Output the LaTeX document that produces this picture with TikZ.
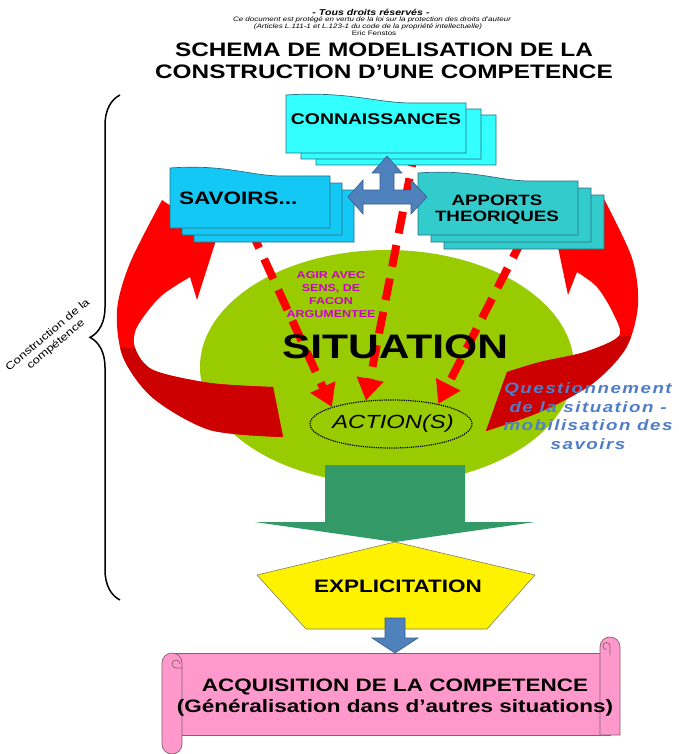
\documentclass[tikz,border=0pt]{standalone}
\usepackage{fontspec}
\setmainfont{Liberation Sans}[FakeStretch=1.25]
\usetikzlibrary{arrows.meta,decorations.pathreplacing,shapes.geometric}

\definecolor{cyanA}{RGB}{51,255,255}
\definecolor{cyanB}{RGB}{20,200,245}
\definecolor{tealC}{RGB}{51,204,204}
\definecolor{boxline}{RGB}{40,110,130}
\definecolor{limeG}{RGB}{153,204,0}
\definecolor{seaG}{RGB}{51,153,102}
\definecolor{steel}{RGB}{79,129,189}
\definecolor{steelD}{RGB}{56,93,138}
\definecolor{redA}{RGB}{255,0,0}
\definecolor{redD}{RGB}{204,0,0}
\definecolor{pinkS}{RGB}{255,153,204}
\definecolor{pinkL}{RGB}{130,95,110}
\definecolor{magA}{RGB}{204,0,204}
\definecolor{qblue}{RGB}{80,125,200}
\definecolor{yelB}{RGB}{128,128,100}

% x y w h color
\newcommand\docshape[5]{%
  \filldraw[fill=#5, draw=boxline, line width=0.7pt]
   (#1,#2) .. controls ({#1+0.35*#3},{#2-4}) and ({#1+0.5*#3},{#2+8}) .. ({#1+0.7*#3},{#2+8})
   -- ({#1+#3},{#2+8}) -- ({#1+#3},{#2+#4}) -- (#1,{#2+#4}) -- cycle;}
% x y w h color dx dy
\newcommand\docstack[7]{%
  \docshape{#1+2*#6}{#2+2*#7}{#3}{#4}{#5}%
  \docshape{#1+#6}{#2+#7}{#3}{#4}{#5}%
  \docshape{#1}{#2}{#3}{#4}{#5}}

\newcommand\leftarrowpath{(162,200) -- (217,237) -- (197,300) -- (190,277)
  -- plot[smooth] coordinates {(190,277) (160,297) (137,327) (135,348) (153,370) (210,383) (273,387)}
  -- (283,437)
  -- plot[smooth] coordinates {(283,437) (210,430) (153,398) (123,357) (117,310) (130,263) (162,200)} -- cycle}
\newcommand\rightarrowpath{(603,197) -- (555,233) -- (568,295) -- (577,272)
  -- plot[smooth] coordinates {(577,272) (597,287) (613,313) (619,336) (585,352) (540,362) (507,372)}
  -- (486,431)
  -- plot[smooth] coordinates {(486,431) (540,412) (592,384) (626,348) (638,305) (632,258) (603,197)} -- cycle}

\begin{document}
\begin{tikzpicture}[x=1pt,y=-1pt,
  dasharrow/.style={draw=redA, line width=8pt, dash pattern=on 22pt off 12pt, -{Triangle[width=26pt,length=22pt]}},
  lbl/.style={inner sep=0pt, outer sep=0pt, align=center},
  scrollst/.style={fill=pinkS, draw=pinkL, line width=0.7pt}]
\useasboundingbox (0,0) rectangle (678,754);
\fill[white] (0,0) rectangle (678,754);

% header
\node[lbl, font=\fontsize{8.5}{9}\selectfont\bfseries\itshape] (h1) at (371,12) {- Tous droits réservés -};
\node[lbl, font=\fontsize{6.4}{7}\selectfont\itshape] (h2) at (372,20) {Ce document est protégé en vertu de la loi sur la protection des droits d'auteur};
\node[lbl, font=\fontsize{6.4}{7}\selectfont\itshape] (h3) at (368,27) {(Articles L.111-1 et L.123-1 du code de la propriété intellectuelle)};
\node[lbl, font=\fontsize{6.4}{7}\selectfont] (h4) at (374,33.5) {Eric Fenstos};

% title
\node[lbl, font=\fontsize{19.5}{22}\selectfont\bfseries] (title) at (384,61) {SCHEMA DE MODELISATION DE LA\\CONSTRUCTION D’UNE COMPETENCE};

% brace
\draw[line width=1.5pt, decorate, decoration={brace, amplitude=30pt, aspect=0.52}] (120,600) -- (120,95);
\node[lbl, rotate=40, font=\fontsize{10.5}{12.5}\selectfont] (brl) at (52,340) {Construction de la\\compétence};

% situation ellipse
\fill[limeG] (387,367) ellipse[x radius=187pt, y radius=117pt];

% red curved arrows
\fill[redA] \leftarrowpath;
\begin{scope}
  \clip (0,348) rectangle (330,470);
  \fill[redD] \leftarrowpath;
\end{scope}
\fill[redA] \rightarrowpath;
\begin{scope}
  \clip (440,336) rectangle (678,470);
  \fill[redD] \rightarrowpath;
\end{scope}

% action ellipse
\node[ellipse, draw, densely dotted, line width=1.2pt, minimum width=162pt, minimum height=48pt, inner sep=0pt] (act) at (391,424) {};
\node[lbl, font=\fontsize{19}{21}\selectfont\itshape] (actt) at (393,424) {ACTION(S)};

% dashed red arrows
\coordinate (d1) at (250,228);
\coordinate (d2) at (416,145);
\coordinate (d3) at (523,238);
\draw[dasharrow] (d1) -- (act.164);
\draw[dasharrow] (d2) -- (act.137);
\draw[dasharrow] (d3) -- (act.23);

% texts in situation
\node[lbl, font=\fontsize{34}{36}\selectfont\bfseries] (sit) at (395,347) {SITUATION};
\node[lbl, text=magA, font=\fontsize{10}{13}\selectfont\bfseries] (agir) at (331,295) {AGIR AVEC\\SENS, DE\\FACON\\ARGUMENTEE};

% green down arrow
\fill[seaG] (325,465) -- (465,465) -- (465,522) -- (535,522) -- (395,542) -- (255,522) -- (325,522) -- cycle;

% document stacks
\docstack{286}{95}{180}{58}{cyanA}{15}{6}
\node[lbl, font=\fontsize{15.5}{17}\selectfont\bfseries] (con) at (376,119) {CONNAISSANCES};
\docstack{170}{168}{160}{60}{cyanB}{12}{7}
\node[lbl, anchor=west, font=\fontsize{18}{20}\selectfont\bfseries] (sav) at (179,198) {SAVOIRS...};
\docstack{418}{173}{160}{62}{tealC}{13}{7}
\node[lbl, font=\fontsize{15}{15.5}\selectfont\bfseries] (app) at (497,209.5) {APPORTS\\THEORIQUES};

% blue three-way arrow
\filldraw[fill=steel, draw=steelD, line width=0.6pt]
  (387,156) -- (402,173) -- (394,173) -- (394,190) -- (411,190) -- (411,180) -- (427,197)
  -- (411,214) -- (411,204) -- (363,204) -- (363,214) -- (348,197) -- (363,180) -- (363,190)
  -- (380,190) -- (380,173) -- (372,173) -- cycle;

% scroll
\filldraw[scrollst] (172,653) rectangle (610,735);
\filldraw[scrollst] (600,735) -- (600,647) arc[start angle=180, end angle=0, radius=10pt] -- (620,735) -- cycle;
\draw[pinkL, line width=0.7pt] (610,655) -- (610,646) arc[start angle=0, end angle=270, radius=3.5pt];
\filldraw[scrollst] (162,663) -- (162,744) arc[start angle=180, end angle=360, radius=10pt] -- (182,663) arc[start angle=0, end angle=180, radius=10pt] -- cycle;
\draw[pinkL, line width=0.7pt] (182,668) -- (176,668) arc[start angle=270, end angle=0, radius=4pt];
\node[lbl, font=\fontsize{18}{21}\selectfont\bfseries] (acq) at (395,698) {ACQUISITION DE LA COMPETENCE\\(Généralisation dans d’autres situations)};

% pentagon
\filldraw[fill=yellow, draw=yelB, line width=0.6pt] (395,542) -- (535,575) -- (487,629) -- (306,629) -- (257,575) -- cycle;
\node[lbl, font=\fontsize{18}{20}\selectfont\bfseries] (expl) at (398,586) {EXPLICITATION};

% small blue arrow
\filldraw[fill=steel, draw=steelD, line width=0.6pt] (385,618) -- (405,618) -- (405,638) -- (418,638) -- (395,653) -- (372,638) -- (385,638) -- cycle;

% questionnement
\node[lbl, text=qblue, font=\fontsize{15}{18.7}\selectfont\bfseries\itshape\addfontfeature{LetterSpace=10}] (quest) at (588,416) {Questionnement\\de la situation -\\mobilisation des\\savoirs};
\end{tikzpicture}
\end{document}
